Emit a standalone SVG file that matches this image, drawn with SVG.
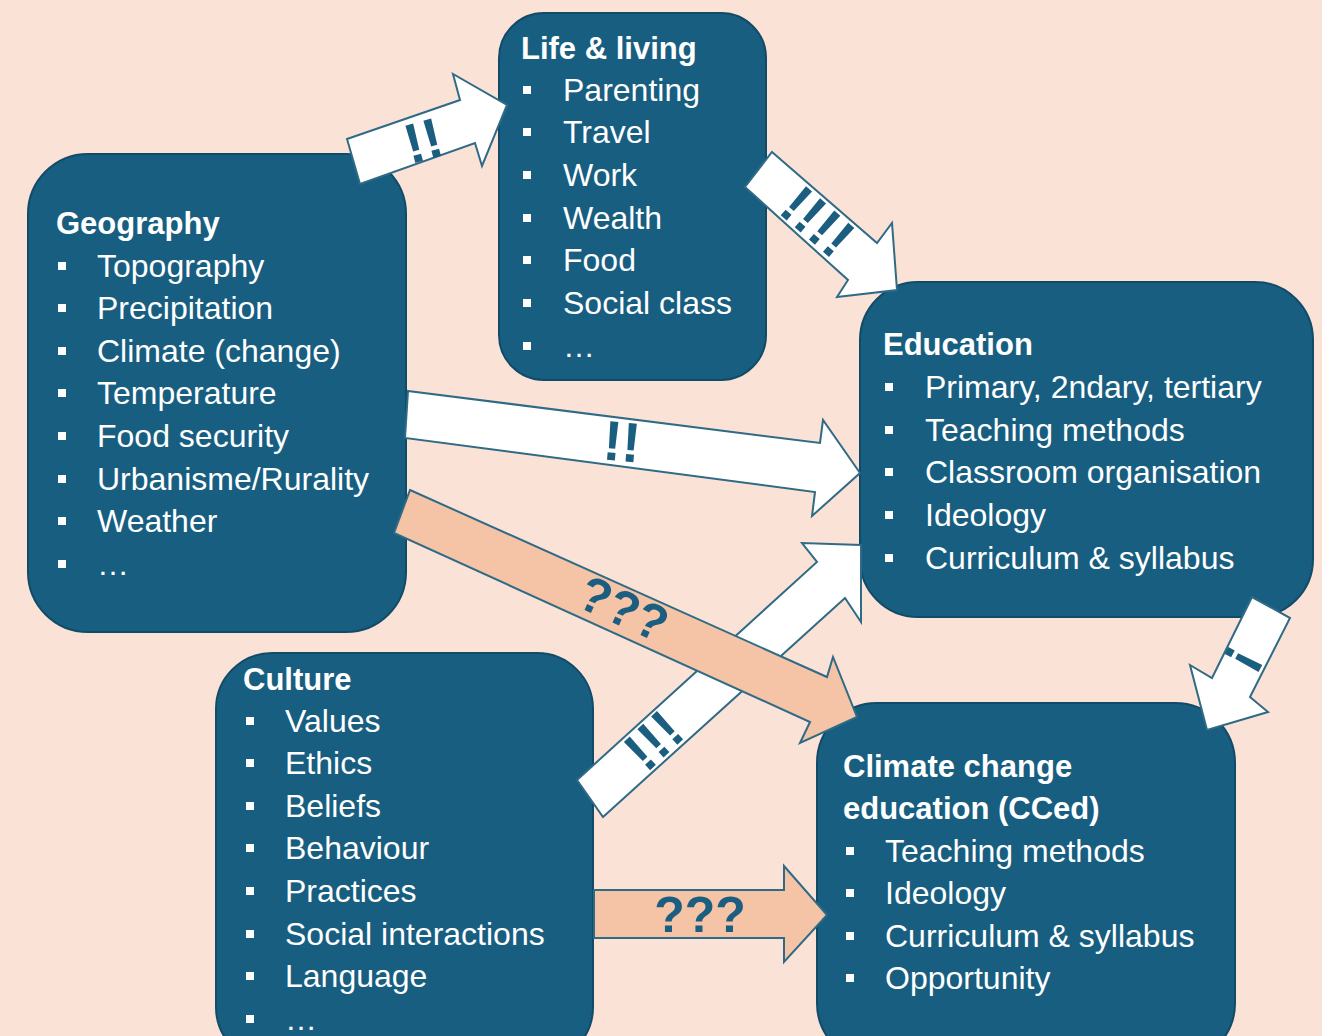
<svg xmlns="http://www.w3.org/2000/svg" width="1322" height="1036" viewBox="0 0 1322 1036">
<style>
.box{fill:#185e80;stroke:#124b68;stroke-width:2}
.h{font-family:"Liberation Sans",Arial,sans-serif;font-weight:bold;font-size:31px;fill:#ffffff}
.t{font-family:"Liberation Sans",Arial,sans-serif;font-size:32px;fill:#ffffff}
.b{fill:#ffffff}
.aw{fill:#ffffff;stroke:#2f6a86;stroke-width:2;stroke-linejoin:miter}
.ap{fill:#f5c3a6;stroke:#2f6a86;stroke-width:2;stroke-linejoin:miter}
.lbl{font-family:"Liberation Sans",Arial,sans-serif;font-weight:bold;font-size:50px;fill:#1b5e80;text-anchor:middle}
.ex{font-size:56px}
</style>
<rect x="0" y="0" width="1322" height="1036" fill="#fbe2d6"/>

<g id="geography">
<rect class="box" x="28" y="154" width="378" height="478" rx="60"/>
<text class="h" x="56" y="234">Geography</text>
<rect class="b" x="58" y="262" width="8" height="8"/><text class="t" x="97" y="277">Topography</text>
<rect class="b" x="58" y="304" width="8" height="8"/><text class="t" x="97" y="319">Precipitation</text>
<rect class="b" x="58" y="347" width="8" height="8"/><text class="t" x="97" y="362">Climate (change)</text>
<rect class="b" x="58" y="389" width="8" height="8"/><text class="t" x="97" y="404">Temperature</text>
<rect class="b" x="58" y="432" width="8" height="8"/><text class="t" x="97" y="447">Food security</text>
<rect class="b" x="58" y="475" width="8" height="8"/><text class="t" x="97" y="490">Urbanisme/Rurality</text>
<rect class="b" x="58" y="517" width="8" height="8"/><text class="t" x="97" y="532">Weather</text>
<rect class="b" x="58" y="560" width="8" height="8"/><text class="t" x="97" y="575">…</text>
</g>

<g id="life">
<rect class="box" x="499" y="13" width="267" height="367" rx="45"/>
<text class="h" x="521" y="59">Life &amp; living</text>
<rect class="b" x="523" y="86" width="8" height="8"/><text class="t" x="563" y="101">Parenting</text>
<rect class="b" x="523" y="128" width="8" height="8"/><text class="t" x="563" y="143">Travel</text>
<rect class="b" x="523" y="171" width="8" height="8"/><text class="t" x="563" y="186">Work</text>
<rect class="b" x="523" y="214" width="8" height="8"/><text class="t" x="563" y="229">Wealth</text>
<rect class="b" x="523" y="256" width="8" height="8"/><text class="t" x="563" y="271">Food</text>
<rect class="b" x="523" y="299" width="8" height="8"/><text class="t" x="563" y="314">Social class</text>
<rect class="b" x="523" y="342" width="8" height="8"/><text class="t" x="563" y="357">…</text>
</g>

<g id="education">
<rect class="box" x="860" y="282" width="453" height="335" rx="58"/>
<text class="h" x="883" y="355">Education</text>
<rect class="b" x="885" y="383" width="8" height="8"/><text class="t" x="925" y="398">Primary, 2ndary, tertiary</text>
<rect class="b" x="885" y="426" width="8" height="8"/><text class="t" x="925" y="441">Teaching methods</text>
<rect class="b" x="885" y="468" width="8" height="8"/><text class="t" x="925" y="483">Classroom organisation</text>
<rect class="b" x="885" y="511" width="8" height="8"/><text class="t" x="925" y="526">Ideology</text>
<rect class="b" x="885" y="554" width="8" height="8"/><text class="t" x="925" y="569">Curriculum &amp; syllabus</text>
</g>

<g id="cced">
<rect class="box" x="817" y="703" width="418" height="360" rx="60"/>
<text class="h" x="843" y="777">Climate change</text>
<text class="h" x="843" y="819">education (CCed)</text>
<rect class="b" x="846" y="847" width="8" height="8"/><text class="t" x="885" y="862">Teaching methods</text>
<rect class="b" x="846" y="889" width="8" height="8"/><text class="t" x="885" y="904">Ideology</text>
<rect class="b" x="846" y="932" width="8" height="8"/><text class="t" x="885" y="947">Curriculum &amp; syllabus</text>
<rect class="b" x="846" y="974" width="8" height="8"/><text class="t" x="885" y="989">Opportunity</text>
</g>

<g id="culture">
<rect class="box" x="216" y="653" width="377" height="410" rx="56"/>
<text class="h" x="243" y="690">Culture</text>
<rect class="b" x="246" y="717" width="8" height="8"/><text class="t" x="285" y="732">Values</text>
<rect class="b" x="246" y="759" width="8" height="8"/><text class="t" x="285" y="774">Ethics</text>
<rect class="b" x="246" y="802" width="8" height="8"/><text class="t" x="285" y="817">Beliefs</text>
<rect class="b" x="246" y="844" width="8" height="8"/><text class="t" x="285" y="859">Behaviour</text>
<rect class="b" x="246" y="887" width="8" height="8"/><text class="t" x="285" y="902">Practices</text>
<rect class="b" x="246" y="930" width="8" height="8"/><text class="t" x="285" y="945">Social interactions</text>
<rect class="b" x="246" y="972" width="8" height="8"/><text class="t" x="285" y="987">Language</text>
<rect class="b" x="246" y="1015" width="8" height="8"/><text class="t" x="285" y="1030">…</text>
</g>

<g id="connectors">
<g id="geo-life">
<polygon class="aw" points="347,139 460,100 453,74 507,105 482,166 475,143 360,184"/>
<text class="lbl ex" transform="translate(423,140) rotate(-15)" y="20">!!</text>
</g>
<g id="life-edu">
<polygon class="aw" points="772,152 877,243 892,223 897,290 837,297 848,280 745,187"/>
<text class="lbl ex" transform="translate(818,221) rotate(41)" y="20">!!!!</text>
</g>
<g id="geo-edu">
<polygon class="aw" points="408,391 820,443 823,420 860,473 812,516 815,492 405,438"/>
<text class="lbl ex" transform="translate(622,441) rotate(5)" y="20">!!</text>
</g>
<g id="culture-edu">
<polygon class="aw" points="577,780 817,562 802,543 861,545 861,622 845,598 603,817"/>
<text class="lbl ex" transform="translate(653,740) rotate(-43)" y="20">!!!</text>
</g>
<g id="geo-cced">
<polygon class="ap" points="410,490 827,677 833,657 857,717 800,743 810,722 394,533"/>
<text class="lbl" transform="translate(624,608) rotate(24)" y="18">???</text>
</g>
<g id="edu-cced">
<polygon class="aw" points="1252,597 1212,678 1190,665 1207,730 1268,712 1250,697 1290,618"/>
<text class="lbl ex" transform="translate(1244,660) rotate(118)" y="20">!</text>
</g>
<g id="culture-cced">
<polygon class="ap" points="594,890 784,890 784,866 827,915 784,962 784,938 594,938"/>
<text class="lbl" x="700" y="932">???</text>
</g>
</g>
</svg>
